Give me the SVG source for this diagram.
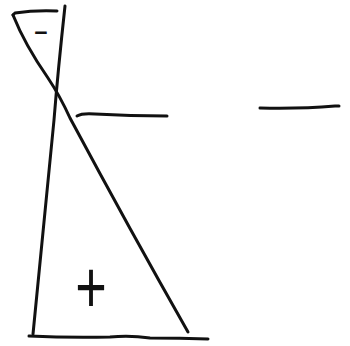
<svg xmlns="http://www.w3.org/2000/svg" width="350" height="346" viewBox="0 0 350 346">
<style>
.s{fill:none;stroke:#111;stroke-width:3;stroke-linecap:round;stroke-linejoin:round}
.t{font-family:"Liberation Sans",Arial,sans-serif;fill:#111;text-anchor:middle}
</style>
<rect width="350" height="346" fill="#fff"/>
<g id="shape">
<path class="s" d="M13,15 L15,13 Q35,10 57,11"/>
<path class="s" d="M13,15 Q25,45 48,78 Q60,96 70,118 Q130,230 188,332"/>
<path class="s" d="M65,6 Q58,70 54,120 Q44,220 33,334"/>
<path class="s" d="M29,336 Q70,338 110,337 Q130,335 150,338 Q180,338 208,339"/>
<path class="s" d="M77,116 Q82,113 95,114 Q130,116 167,116"/>
<path class="s" d="M260,108 Q300,109 335,106 L339,106"/>
</g>
<text class="t" x="41" y="39.6" font-size="22" stroke="#111" stroke-width="0.8">−</text>
<g transform="translate(91,287) scale(1,1.36)"><text class="t" x="0" y="19" font-size="54">+</text></g>
</svg>
